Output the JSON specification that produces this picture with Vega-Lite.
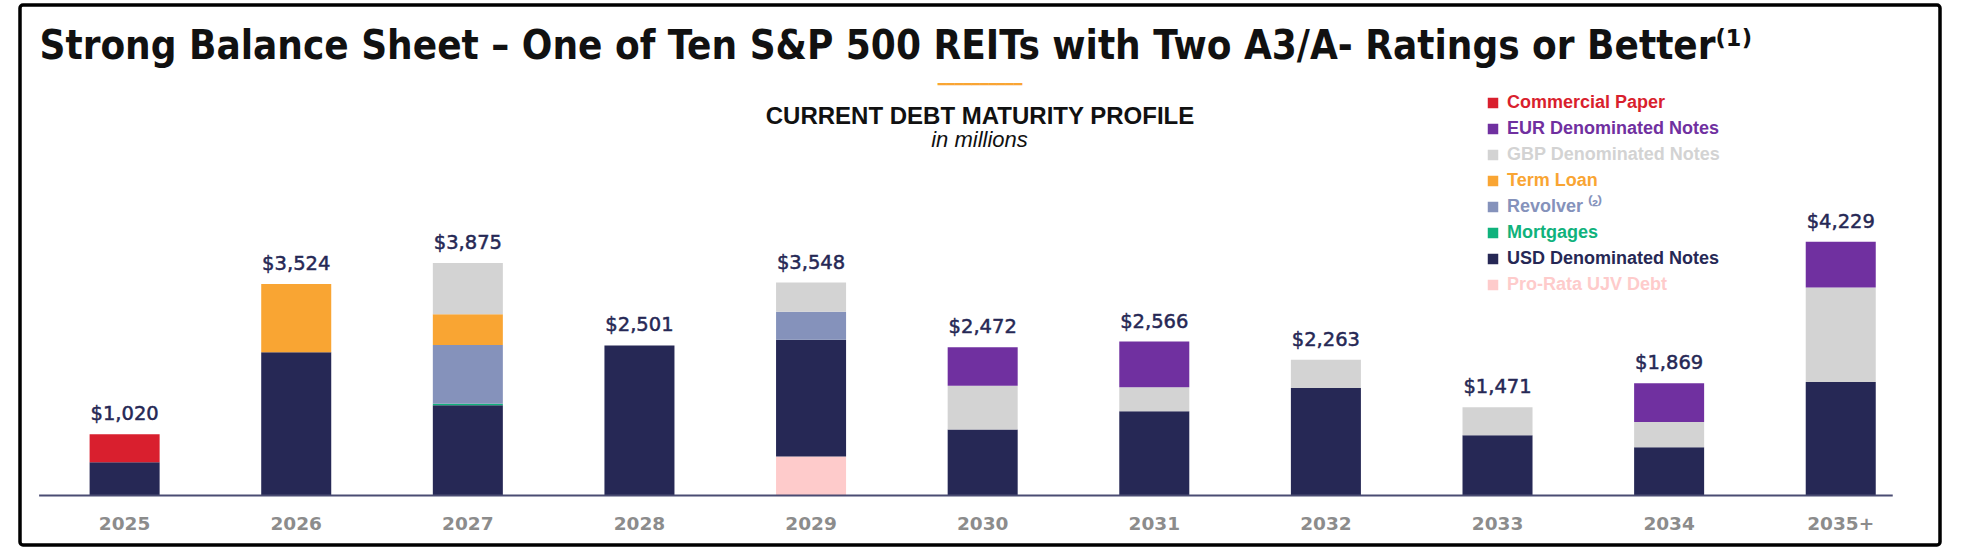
{
  "$schema": "https://vega.github.io/schema/vega-lite/v6.json",
  "width": 1920,
  "height": 540,
  "autosize": {"type": "none"},
  "padding": {"left": 20, "top": 5, "right": 22, "bottom": 5},
  "background": "white",
  "config": {
    "font": "Liberation Sans",
    "view": {"stroke": "#000000", "strokeWidth": 3.5, "cornerRadius": 3}
  },
  "title": {
    "text": "━━━━━━━━━━",
    "subtitle": "CURRENT DEBT MATURITY PROFILE",
    "anchor": "middle",
    "frame": "group",
    "offset": -124,
    "font": "DejaVu Sans Mono",
    "fontSize": 14,
    "fontWeight": "normal",
    "color": "#F9A533",
    "subtitleFont": "Liberation Sans",
    "subtitleFontSize": 24,
    "subtitleFontWeight": "bold",
    "subtitleColor": "#111111",
    "subtitlePadding": 13.5
  },
  "resolve": {"axis": {"x": "independent", "y": "independent"}},
  "datasets": {
    "debt": [
      {"year": "2025", "series": "USD Denominated Notes", "value": 555},
      {"year": "2025", "series": "Commercial Paper", "value": 465},
      {"year": "2026", "series": "USD Denominated Notes", "value": 2389},
      {"year": "2026", "series": "Term Loan", "value": 1135},
      {"year": "2027", "series": "USD Denominated Notes", "value": 1505},
      {"year": "2027", "series": "Mortgages", "value": 25},
      {"year": "2027", "series": "Revolver", "value": 980},
      {"year": "2027", "series": "Term Loan", "value": 512},
      {"year": "2027", "series": "GBP Denominated Notes", "value": 853},
      {"year": "2028", "series": "USD Denominated Notes", "value": 2501},
      {"year": "2029", "series": "Pro-Rata UJV Debt", "value": 650},
      {"year": "2029", "series": "USD Denominated Notes", "value": 1945},
      {"year": "2029", "series": "Revolver", "value": 467},
      {"year": "2029", "series": "GBP Denominated Notes", "value": 486},
      {"year": "2030", "series": "USD Denominated Notes", "value": 1100},
      {"year": "2030", "series": "GBP Denominated Notes", "value": 730},
      {"year": "2030", "series": "EUR Denominated Notes", "value": 642},
      {"year": "2031", "series": "USD Denominated Notes", "value": 1405},
      {"year": "2031", "series": "GBP Denominated Notes", "value": 398},
      {"year": "2031", "series": "EUR Denominated Notes", "value": 763},
      {"year": "2032", "series": "USD Denominated Notes", "value": 1790},
      {"year": "2032", "series": "GBP Denominated Notes", "value": 473},
      {"year": "2033", "series": "USD Denominated Notes", "value": 1003},
      {"year": "2033", "series": "GBP Denominated Notes", "value": 468},
      {"year": "2034", "series": "USD Denominated Notes", "value": 805},
      {"year": "2034", "series": "GBP Denominated Notes", "value": 418},
      {"year": "2034", "series": "EUR Denominated Notes", "value": 646},
      {"year": "2035+", "series": "USD Denominated Notes", "value": 1892},
      {"year": "2035+", "series": "GBP Denominated Notes", "value": 1576},
      {"year": "2035+", "series": "EUR Denominated Notes", "value": 761}
    ],
    "totals": [
      {"year": "2025", "total": 1020},
      {"year": "2026", "total": 3524},
      {"year": "2027", "total": 3875},
      {"year": "2028", "total": 2501},
      {"year": "2029", "total": 3548},
      {"year": "2030", "total": 2472},
      {"year": "2031", "total": 2566},
      {"year": "2032", "total": 2263},
      {"year": "2033", "total": 1471},
      {"year": "2034", "total": 1869},
      {"year": "2035+", "total": 4229}
    ]
  },
  "layer": [
    {
      "data": {"name": "debt"},
      "transform": [
        {"stack": "value", "groupby": ["year"], "as": ["v0", "v1"]}
      ],
      "mark": {"type": "bar"},
      "encoding": {
        "x": {
          "field": "year",
          "type": "nominal",
          "scale": {
            "domain": ["2025", "2026", "2027", "2028", "2029", "2030", "2031", "2032", "2033", "2034", "2035+"],
            "paddingInner": 0.592,
            "paddingOuter": 0.39,
            "align": 0.52
          },
          "axis": {
            "title": "Strong Balance Sheet – One of Ten S&P 500 REITs with Two A3/A- Ratings or Better⁽¹⁾",
            "orient": "bottom",
            "offset": -49.5,
            "domain": false,
            "ticks": false,
            "tickSize": 0,
            "grid": false,
            "labelAngle": 0,
            "labelPadding": 18.5,
            "labelFont": "DejaVu Sans",
            "labelFontSize": 18.5,
            "labelFontWeight": "bold",
            "labelColor": "#8C8C8C",
            "titleX": 19,
            "titleY": -437,
            "titleAlign": "left",
            "titleBaseline": "alphabetic",
            "titleFont": "DejaVu Sans Condensed, DejaVu Sans",
            "titleFontSize": 40,
            "titleFontWeight": "bold",
            "titleColor": "#111111",
            "titleLimit": 3000
          }
        },
        "y": {
          "field": "v0",
          "type": "quantitative",
          "scale": {"domain": [-825, 8175], "nice": false, "zero": false},
          "axis": {
            "title": "in millions",
            "orient": "left",
            "domain": false,
            "ticks": false,
            "labels": false,
            "grid": false,
            "titleAngle": 0,
            "titleX": 959,
            "titleY": 141,
            "titleAlign": "center",
            "titleBaseline": "alphabetic",
            "titleFont": "Liberation Sans",
            "titleFontSize": 22,
            "titleFontStyle": "italic",
            "titleFontWeight": "normal",
            "titleColor": "#111111",
            "titlePadding": 0
          }
        },
        "y2": {"field": "v1"},
        "color": {
          "field": "series",
          "type": "nominal",
          "scale": {
            "domain": ["Commercial Paper", "EUR Denominated Notes", "GBP Denominated Notes", "Term Loan", "Revolver", "Mortgages", "USD Denominated Notes", "Pro-Rata UJV Debt"],
            "range": ["#D91F2E", "#7030A0", "#D3D3D3", "#F9A533", "#8592BB", "#10B27C", "#262855", "#FECBCB"]
          },
          "legend": {
            "orient": "none",
            "legendX": 1464,
            "legendY": 89,
            "title": null,
            "padding": 0,
            "symbolType": "square",
            "symbolSize": 110,
            "symbolStrokeWidth": 0,
            "symbolOpacity": 1,
            "labelFont": "Liberation Sans",
            "labelFontSize": 18,
            "labelFontWeight": "bold",
            "labelOffset": 5,
            "labelLimit": 400,
            "rowPadding": 8,
            "labelExpr": "datum.value === 'Revolver' ? 'Revolver ⁽²⁾' : datum.label",
            "encode": {
              "labels": {"update": {"fill": {"scale": "color", "field": "value"}}}
            }
          }
        }
      }
    },
    {
      "data": {"values": [{}]},
      "mark": {"type": "rule", "color": "#4A4C73", "strokeWidth": 2, "xOffset": -85.5, "x2Offset": 52},
      "encoding": {
        "x": {"datum": "2025", "type": "nominal", "bandPosition": 0.5, "axis": null},
        "x2": {"datum": "2035+"},
        "y": {"datum": 0, "type": "quantitative", "scale": {"domain": [-825, 8175], "nice": false, "zero": false}, "axis": null}
      }
    },
    {
      "data": {"name": "totals"},
      "mark": {"type": "text", "font": "DejaVu Sans", "fontSize": 19.5, "color": "#262855", "stroke": "#262855", "strokeWidth": 0.5, "dy": -14, "baseline": "alphabetic", "align": "center"},
      "encoding": {
        "x": {"field": "year", "type": "nominal", "axis": null},
        "y": {"field": "total", "type": "quantitative", "scale": {"domain": [-825, 8175], "nice": false, "zero": false}, "axis": null},
        "text": {"field": "total", "type": "quantitative", "format": "$,.0f"}
      }
    }
  ]
}
